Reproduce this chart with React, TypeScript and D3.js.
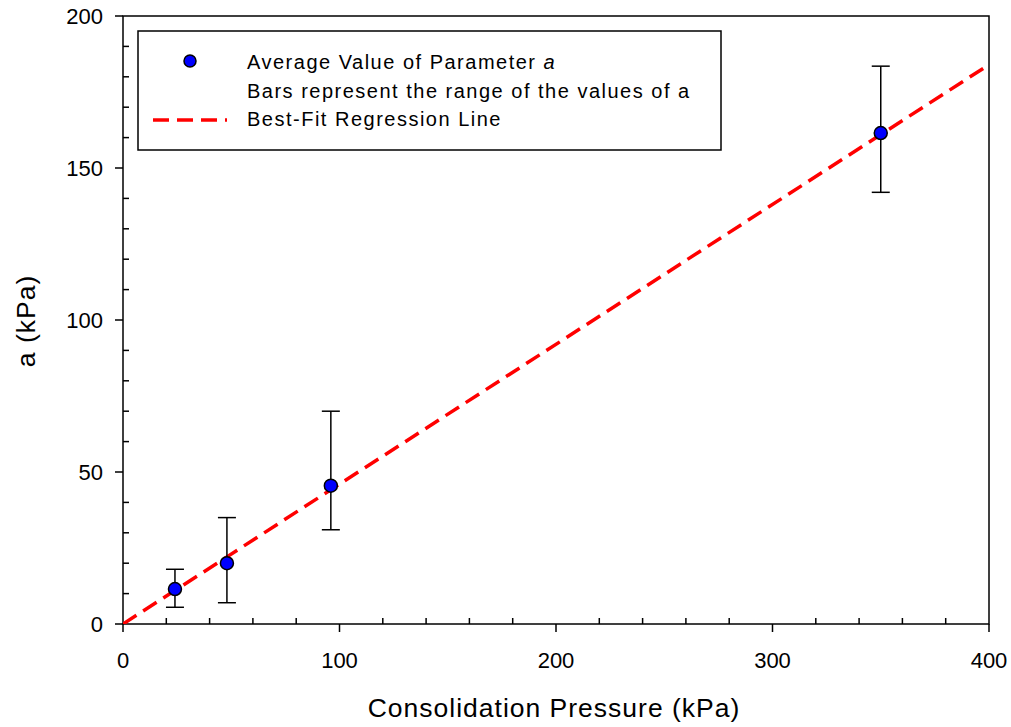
import React from "react";
import * as d3 from "d3";

const pressures = [24, 48, 96, 350];
const avgA = [11.5, 20, 45.5, 161.5];
const minA = [5.5, 7, 31, 142];
const maxA = [18, 35, 70, 183.5];
const regSlope = 0.46;
const xTicks = [0, 100, 200, 300, 400];
const yTicks = [0, 50, 100, 150, 200];
const legendLabels = [
  "Average Value of Parameter ",
  "Bars represent the range of the values of a",
  "Best-Fit Regression Line",
];

const W = 1011, H = 727;
const L = 123, R = 989, T = 16, B = 624;

export default function App() {
  const x = d3.scaleLinear().domain([0, 400]).range([L, R]);
  const y = d3.scaleLinear().domain([0, 200]).range([B, T]);
  const xMinor = d3.range(0, 401, 20).filter((v) => v % 100 !== 0);
  const yMinor = d3.range(0, 201, 10).filter((v) => v % 50 !== 0);
  const font = "Arial, 'Liberation Sans', sans-serif";
  const line = d3.line<number>().x((d) => x(d)).y((d) => y(regSlope * d));
  return (
    <svg width={W} height={H} style={{ position: "absolute", left: 0, top: 0, background: "#fff" }} fontFamily={font}>
      <defs>
        <clipPath id="clip"><rect x={L} y={T} width={R - L} height={B - T} /></clipPath>
      </defs>
      {/* frame */}
      <rect x={L} y={T} width={R - L} height={B - T} fill="none" stroke="#000" strokeWidth={1.5} />
      {/* major ticks outward */}
      {xTicks.map((v) => (
        <g key={"xt" + v}>
          <line x1={x(v)} x2={x(v)} y1={B} y2={B + 8} stroke="#000" strokeWidth={1.5} />
          <text x={x(v)} y={668} textAnchor="middle" fontSize={22}>{v}</text>
        </g>
      ))}
      {xMinor.map((v) => (
        <line key={"xm" + v} x1={x(v)} x2={x(v)} y1={B} y2={B - 6} stroke="#000" strokeWidth={1.5} />
      ))}
      {yTicks.map((v) => (
        <g key={"yt" + v}>
          <line x1={L - 8} x2={L} y1={y(v)} y2={y(v)} stroke="#000" strokeWidth={1.5} />
          <text x={L - 20} y={y(v) + 8} textAnchor="end" fontSize={22}>{v}</text>
        </g>
      ))}
      {yMinor.map((v) => (
        <line key={"ym" + v} x1={L} x2={L + 6} y1={y(v)} y2={y(v)} stroke="#000" strokeWidth={1.5} />
      ))}
      {/* axis titles */}
      <text x={554} y={717} textAnchor="middle" fontSize={26.5} letterSpacing={1}>Consolidation Pressure (kPa)</text>
      <text transform={`translate(35, 321) rotate(-90)`} textAnchor="middle" fontSize={26.5} letterSpacing={1}>a (kPa)</text>
      {/* regression line */}
      <path d={line([0, 400]) || ""} clipPath="url(#clip)" fill="none" stroke="#ff0000" strokeWidth={3.5} strokeDasharray="16,8" />
      {/* error bars */}
      {pressures.map((p, i) => (
        <g key={"eb" + i} stroke="#000" strokeWidth={1.5}>
          <line x1={x(p)} x2={x(p)} y1={y(minA[i])} y2={y(maxA[i])} />
          <line x1={x(p) - 9} x2={x(p) + 9} y1={y(minA[i])} y2={y(minA[i])} />
          <line x1={x(p) - 9} x2={x(p) + 9} y1={y(maxA[i])} y2={y(maxA[i])} />
        </g>
      ))}
      {pressures.map((p, i) => (
        <circle key={"pt" + i} cx={x(p)} cy={y(avgA[i])} r={6.5} fill="#0000ff" stroke="#000" strokeWidth={1.5} />
      ))}
      {/* legend */}
      <rect x={138} y={31} width={583} height={119} fill="#fff" stroke="#000" strokeWidth={1.5} />
      <circle cx={190} cy={61} r={6} fill="#0000ff" stroke="#000" strokeWidth={1.5} />
      <g fontSize={20} letterSpacing={1.5}>
        <text x={247} y={69}>
          {legendLabels[0]}<tspan fontStyle="italic">a</tspan>
        </text>
        <text x={247} y={98}>{legendLabels[1]}</text>
        <text x={247} y={126}>{legendLabels[2]}</text>
      </g>
      <line x1={153} x2={227} y1={120} y2={120} stroke="#ff0000" strokeWidth={3.5} strokeDasharray="16,8" />
    </svg>
  );
}
